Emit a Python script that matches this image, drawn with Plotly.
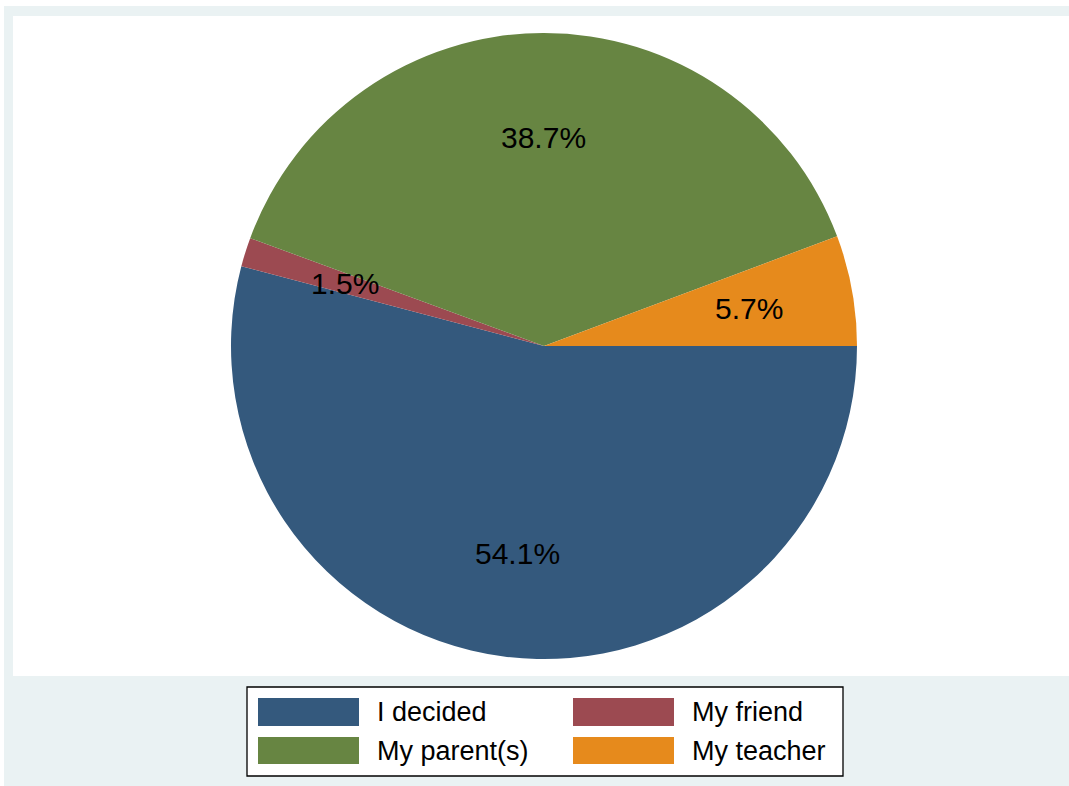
import math
import plotly.graph_objects as go

# Who decided on the choice
labels = ["I decided", "My friend", "My parent(s)", "My teacher"]
values = [54.1, 1.5, 38.7, 5.7]
colors = ["#34597D", "#9C4A51", "#678542", "#E68A1C"]

W, H = 1069, 786
FONT = "Liberation Sans, Arial, sans-serif"


def px(x):
    return x / W


def py(y):
    # pixel row (from top) -> paper fraction (from bottom)
    return 1 - y / H


# pie geometry in pixels
cx, cy, R = 544, 346, 313

fig = go.Figure()

fig.add_trace(go.Pie(
    labels=labels,
    values=values,
    sort=False,
    direction="clockwise",
    rotation=90,
    marker=dict(colors=colors, line=dict(width=0)),
    textinfo="none",
    hovertemplate="%{label}: %{percent:.1%}<extra></extra>",
    showlegend=False,
    domain=dict(x=[px(cx - R), px(cx + R)], y=[py(cy + R), py(cy - R)]),
))

shapes = []
annotations = []

# graph region background and white plot region
shapes.append(dict(type="rect", xref="paper", yref="paper", layer="below",
                   x0=px(4), x1=px(W), y0=py(H), y1=py(6),
                   fillcolor="#EAF2F3", line=dict(width=0)))
shapes.append(dict(type="rect", xref="paper", yref="paper", layer="below",
                   x0=px(13), x1=px(W), y0=py(676), y1=py(16),
                   fillcolor="#FFFFFF", line=dict(width=0)))

# percentage labels at two thirds of the radius, at each slice's mid-angle
total = sum(values)
cum = 0.0
for v in values:
    mid = (cum + v / 2) / total
    cum += v
    ang = 2 * math.pi * mid
    lx = cx + 0.667 * R * math.cos(ang)
    ly = cy + 0.667 * R * math.sin(ang)
    annotations.append(dict(
        x=px(lx), y=py(ly), xref="paper", yref="paper",
        text=f"{v / total * 100:.1f}%", showarrow=False,
        xanchor="center", yanchor="middle",
        font=dict(family=FONT, size=30, color="#000000"),
    ))

# legend box
shapes.append(dict(type="rect", xref="paper", yref="paper",
                   x0=px(247), x1=px(843), y0=py(776), y1=py(687),
                   fillcolor="#FFFFFF", line=dict(color="#000000", width=1.3)))

# legend entries: two columns, two rows
col_x = [258, 573]
sw_w = 101
row_y = [(698, 726), (737, 764)]
for i, (lab, col) in enumerate(zip(labels, colors)):
    r, c = divmod(i, 2)
    x0 = col_x[c]
    y0, y1 = row_y[r]
    shapes.append(dict(type="rect", xref="paper", yref="paper",
                       x0=px(x0), x1=px(x0 + sw_w), y0=py(y1), y1=py(y0),
                       fillcolor=col, line=dict(width=0)))
    annotations.append(dict(
        x=px(x0 + sw_w + 16), y=py((y0 + y1) / 2), xref="paper", yref="paper",
        text=lab, showarrow=False, xanchor="left", yanchor="middle",
        font=dict(family=FONT, size=27, color="#000000"),
    ))

fig.update_layout(
    width=W, height=H,
    margin=dict(l=0, r=0, t=0, b=0),
    paper_bgcolor="#FFFFFF",
    plot_bgcolor="#FFFFFF",
    shapes=shapes,
    annotations=annotations,
    showlegend=False,
)

fig.write_html("out.html")
